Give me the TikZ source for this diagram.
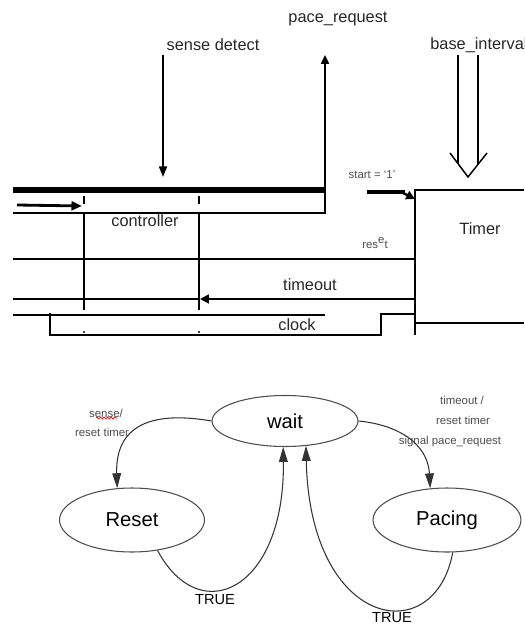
\documentclass[tikz,border=0pt]{standalone}
\usepackage{fontspec}
\setmainfont{Liberation Sans}
\usetikzlibrary{arrows.meta, shapes.geometric, decorations.pathmorphing}

\begin{document}
\begin{tikzpicture}[x=0.02cm, y=-0.02cm,
        wire/.style={line width=1.1pt},
        bus/.style={line width=3.2pt},
        tip/.style={-{Triangle[length=6pt,width=4.5pt]}},
        lbl/.style={font=\fontsize{9.3}{11}\selectfont, text=black!85, inner sep=0pt},
        small/.style={font=\fontsize{6.5}{8}\selectfont, text=black!70, inner sep=0pt},
        state/.style={draw=black!70, line width=0.6pt, ellipse, minimum width=2.9cm,
            minimum height=1.28cm, font=\fontsize{11.5}{13}\selectfont},
        trans/.style={draw=black!80, line width=0.6pt, -{Triangle[length=8.5pt,width=5pt]}}]
            \useasboundingbox (0,0) rectangle (524,625);

            % Signals above the blocks

            \node[lbl] (pacereq) at (338,19) {pace\_request};
            \node[lbl] (sense) at (213,45) {sense detect};
            \node[lbl, anchor=west] (base) at (430,45) {base\_interval};
            \draw[wire, tip] (163,55) -- (163,177);
            \draw[wire, -{Triangle[length=5pt,width=4.5pt]}] (325,190) -- (325,55);
            \draw[line width=0.85pt] (458,55) -- (458,164) (478,55) -- (478,164);
            \draw[line width=0.85pt] (450,153) -- (468,177) -- (487,153);

            % Controller block

            \draw[bus] (13,190) -- (325,190);
            \draw[wire] (325,190) -- (325,213) -- (13,213);
            \draw[line width=1.6pt, -{Triangle[length=6pt,width=5pt]}] (17,205) -- (82,206);
            \node[lbl] (ctrl) at (145,221) {controller};
            \foreach \x in {84,199} {
                \draw[wire] (\x,196) -- (\x,204);
                \draw[wire] (\x,213) -- (\x,310);
                \fill (\x,332) circle (1.2);
            }

            % Timer block

            \node[small] (start) at (372,175) {start = `1'};
            \draw[line width=2.3pt] (367,192) -- (405,192);
            \draw[line width=1.4pt, -{Triangle[length=5pt,width=5pt]}] (403,193) -- (415,199);
            \draw[wire] (524,190) -- (415,190) -- (415,335);
            \draw[wire] (415,323) -- (524,323);
            \node[lbl] (timer) at (480,229) {Timer};

            % Lines between the blocks

            \node[small] (resetsig) at (375,243) {res\raisebox{0.8ex}{e}t};
            \draw[wire] (13,259) -- (415,259);
            \node[lbl] (tout) at (310,285) {timeout};
            \draw[wire] (13,299) -- (200,299);
            \draw[wire, -{Triangle[length=5pt,width=5pt]}] (415,299) -- (200,299);
            \node[lbl] (clk) at (297,325) {clock};
            \draw[wire] (13,315) -- (325,315);
            \draw[wire] (50,313) -- (50,335) -- (381,335) -- (381,314) -- (415,314);

            % State machine

            \node[state, minimum width=2.92cm, minimum height=1.02cm] (wait) at (285,421) {wait};
            \node[state] (reset) at (132,520) {Reset};
            \node[state, minimum width=2.96cm] (pacing) at (447,520) {Pacing};

            \draw[trans] (wait.west) .. controls (160,412) and (115,420) .. (reset.115);
            \draw[trans] (wait.east) .. controls (400,425) and (428,445) .. (pacing.118);
            \draw[trans] (reset.-50) .. controls (200,630) and (285,590) .. (wait.266);
            \draw[trans] (pacing.-80) .. controls (435,650) and (310,630) .. (wait.-50);

            \node[small] (sensel) at (106,413) {sense/};
            \draw[red, line width=0.4pt, decorate, decoration={snake, amplitude=0.6pt, segment length=2pt}] (96,418) -- (117,418);
            \node[small] (rtl) at (102,432) {reset timer};
            \node[small] (toutl) at (462,400) {timeout /};
            \node[small] (rtr) at (463,420) {reset timer};
            \node[small] (sigl) at (450,442) {signal pace\_request};
            \node[font=\fontsize{8.3}{10}\selectfont, inner sep=0pt] (true1) at (215,600) {TRUE};
            \node[font=\fontsize{8.3}{10}\selectfont, inner sep=0pt] (true2) at (392,618) {TRUE};

        \end{tikzpicture}
\end{document}
